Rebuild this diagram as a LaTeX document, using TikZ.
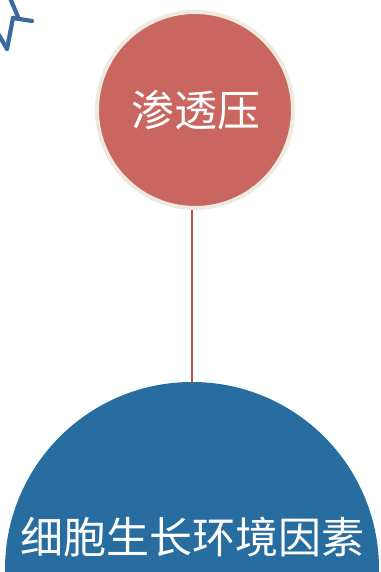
\documentclass[tikz,border=0pt]{standalone}
\usepackage{fontspec}
\newfontfamily\cjk{Noto Sans CJK SC}
\definecolor{ringc}{HTML}{EDEBE0}
\definecolor{redc}{HTML}{C8665F}
\definecolor{bluec}{HTML}{286DA0}
\definecolor{linec}{HTML}{C0504D}
\definecolor{fragc}{HTML}{3A6A9E}
\tikzset{
  envcircle/.style={circle, fill=bluec, minimum size=374pt, inner sep=0pt},
  osmcircle/.style={circle, fill=redc, draw=ringc, line width=4pt, minimum size=196pt, inner sep=0pt},
  cjklabel/.style={text=white, font=\cjk\fontsize{43}{48}\selectfont, inner sep=0pt},
  linkline/.style={draw=linec, line width=1.2pt},
  fragstroke/.style={draw=fragc, line width=4.2pt, line cap=round, line join=round}
}
\begin{document}
\begin{tikzpicture}[x=1pt,y=1pt]
\useasboundingbox (0,0) rectangle (380,572);
\clip (0,0) rectangle (380,572);
\fill[white] (0,0) rectangle (380,572);
% fragment of cut-off glyph at top-left
\coordinate (f1) at (10,574);
\coordinate (f2) at (18,555);
\coordinate (f3) at (13,554);
\coordinate (f4) at (32,551);
\coordinate (f5) at (7,523);
\coordinate (f6) at (-1,537);
\draw[fragstroke] (f1) -- (f2);
\draw[fragstroke] (f3) .. controls (22,553) .. (f4);
\draw[fragstroke] (f3) -- (f5);
\draw[fragstroke] (f6) -- (f5);
% big blue circle
\node[envcircle] (env) at (192,3) {};
\node[cjklabel] (envt) at (192,35) {细胞生长环境因素};
% red circle
\coordinate (ltop) at (192,370);
\draw[linkline] (ltop) -- (env.north);
\node[osmcircle] (osm) at (195,462) {};
\node[cjklabel] (osmt) at (196,462) {渗透压};
\end{tikzpicture}
\end{document}
